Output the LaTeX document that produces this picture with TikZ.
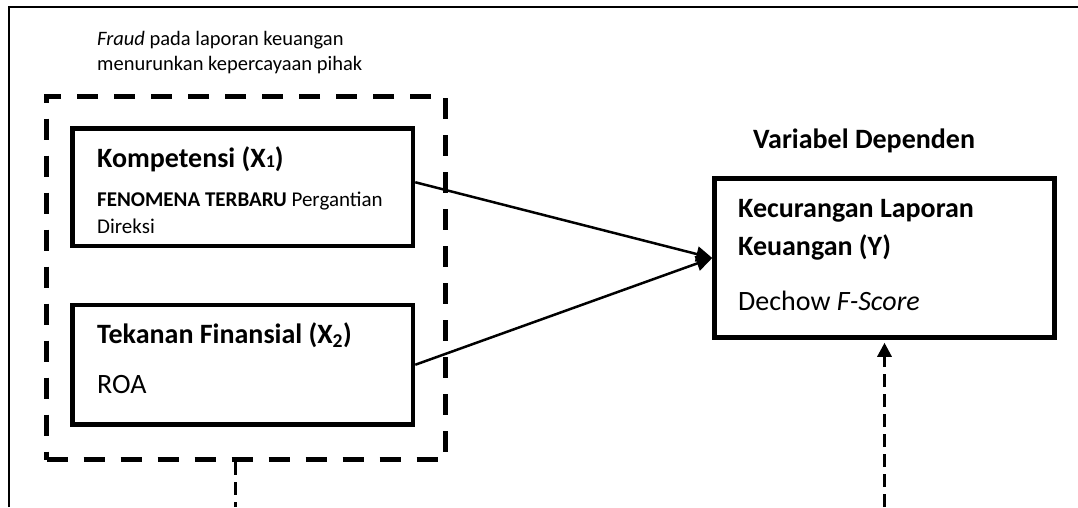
\documentclass[tikz,border=0pt]{standalone}
\usepackage{fontspec}
\setmainfont{Carlito}
\usetikzlibrary{arrows.meta}
\tikzset{
  box/.style={draw, line width=4.5pt, rectangle, inner sep=0pt},
  hd/.style={anchor=base west, inner sep=0pt, font=\fontsize{28}{32}\selectfont\bfseries},
  tx/.style={anchor=base west, inner sep=0pt, font=\fontsize{20.5}{24}\selectfont},
  sx/.style={anchor=base west, inner sep=0pt, font=\fontsize{21}{24}\selectfont},
  mx/.style={anchor=base west, inner sep=0pt, font=\fontsize{28}{32}\selectfont},
  solidarrow/.style={line width=2.5pt, -{Triangle[length=16pt,width=15pt]}},
  dashline/.style={line width=3pt, dash pattern=on 13pt off 7pt},
}
\begin{document}
\begin{tikzpicture}[x=1pt,y=-1pt]
\useasboundingbox (0,0) rectangle (1078,507);
% outer frame
\draw[line width=2pt] (9,507) -- (9,7) -- (1078,7);
% group dashed box
\node[draw, line width=5pt, dash pattern=on 21pt off 16pt, minimum width=399pt, minimum height=363.5pt, inner sep=0pt] (grp) at (246,277.75) {};
% boxes
\node[box, minimum width=340.5pt, minimum height=117.5pt] (x1) at (242.75,187.25) {};
\node[box, minimum width=340.5pt, minimum height=119.5pt] (x2) at (242.75,364.75) {};
\node[box, minimum width=340pt, minimum height=159pt] (y) at (884.5,258) {};
% texts
\node[tx] (t1) at (97,45) {\textit{Fraud} pada laporan keuangan};
\node[tx] (t2) at (97,70) {menurunkan kepercayaan pihak};
\node[hd] (k1) at (97,167) {Kompetensi (X{\fontsize{18}{20}\selectfont 1})};
\node[sx] (k2) at (97,206) {\textbf{FENOMENA TERBARU} Pergantian};
\node[sx] (k3) at (97,233) {Direksi};
\node[hd] (f1) at (97,343) {Tekanan Finansial (X\textsubscript{2})};
\node[mx] (f2) at (97,393) {ROA};
\node[hd] (vd) at (753,148) {Variabel Dependen};
\node[hd] (y1) at (738,217) {Kecurangan Laporan};
\node[hd] (y2) at (738,255) {Keuangan (Y)};
\node[mx] (y3) at (738,310) {Dechow \textit{F-Score}};
% connectors
\draw[solidarrow] ([yshift=5pt]x1.east) -- (y.west);
\draw[solidarrow] (x2.east) -- (y.west);
\coordinate (e1) at (235,507);
\coordinate (e2) at (884.5,507);
\draw[dashline] (grp.south -| e1) -- (e1);
\draw[dashline, -{Triangle[length=14pt,width=14pt]}, shorten >=3pt] (e2) -- (y.south);
\end{tikzpicture}
\end{document}
